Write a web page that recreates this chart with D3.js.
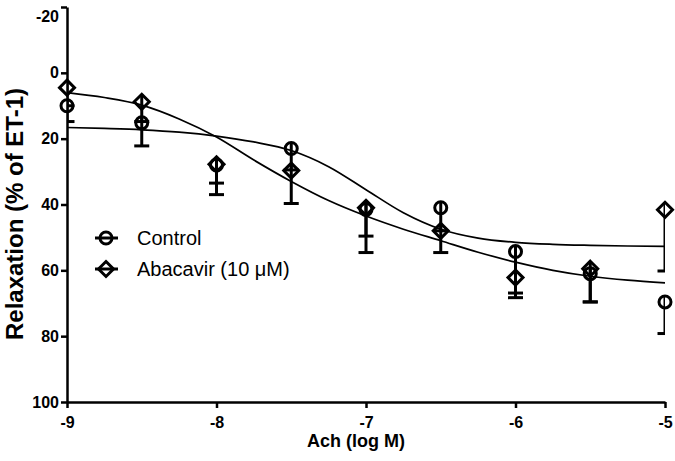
<!DOCTYPE html>
<html>
<head>
<meta charset="utf-8">
<script src="https://cdn.jsdelivr.net/npm/d3@7"></script>
<style>
  html, body { margin: 0; padding: 0; background: #fff; }
  svg { display: block; }
  text { font-family: "Liberation Sans", Arial, sans-serif; fill: #000; }
</style>
</head>
<body>
<svg id="chart" width="675" height="461"></svg>
<script>
// ---------------- data ----------------
const doses = [-9, -8.5, -8, -7.5, -7, -6.5, -6, -5.5, -5];
const controlMean = [10, 15.2, 28, 23, 41.5, 41, 54.3, 61, 69.6];
const controlSem  = [4.8, 7, 5.5, 6.5, 8.1, 7, 12.6, 8.6, 9.6];
const abacavirMean = [4.5, 8.8, 27.8, 29.7, 41, 48, 62.2, 59.5, 41.6];
const abacavirSem  = [5.5, 6, 9.2, 10, 13.6, 6.6, 6.1, 10.1, 18.6];

// fitted curves
const curveX = [-9, -8.75, -8.5, -8.25, -8, -7.75, -7.5, -7.25, -7, -6.75, -6.5, -6.25, -6, -5.75, -5.5, -5.25, -5];
const controlCurve  = [16.6, 16.9, 17.3, 18.0, 19.2, 21.0, 23.6, 28.5, 35.5, 42.5, 47.5, 50.2, 51.5, 52.1, 52.4, 52.6, 52.7];
const abacavirCurve = [6.0, 7.5, 9.8, 14.0, 19.5, 26.5, 33.0, 38.8, 43.5, 47.5, 51.0, 54.5, 57.5, 60.0, 61.8, 63.0, 63.8];

const xTicks = [-9, -8, -7, -6, -5];
const yTicks = [-20, 0, 20, 40, 60, 80, 100];
const seriesNames = ["Control", "Abacavir (10 \u03BCM)"];
const xTitle = "Ach (log M)";
const yTitle = "Relaxation (% of ET-1)";

// ---------------- chart ----------------
const svg = d3.select("#chart");
const x = d3.scaleLinear().domain([-9, -5]).range([67, 665]);
const y = d3.scaleLinear().domain([-20, 100]).range([7, 402]);

svg.append("defs").append("clipPath").attr("id", "plotclip")
  .append("rect").attr("x", x(-9)).attr("y", 0).attr("width", x(-5) - x(-9)).attr("height", 461);

// axes
const xAxis = svg.append("g").attr("transform", `translate(0,${y(100)})`)
  .call(d3.axisBottom(x).tickValues(xTicks).tickSize(6).tickSizeOuter(0).tickFormat(d => d));
const yAxis = svg.append("g").attr("transform", `translate(${x(-9)},0)`)
  .call(d3.axisLeft(y).tickValues(yTicks).tickSize(6).tickSizeOuter(0).tickFormat(d => d));
[xAxis, yAxis].forEach(a => {
  a.select(".domain").attr("stroke", "#000").attr("stroke-width", 2.5);
  a.selectAll(".tick line").attr("stroke", "#000").attr("stroke-width", 2.5);
  a.selectAll(".tick text").style("font-family", "'Liberation Sans', Arial, sans-serif")
    .style("font-size", "16px").style("font-weight", "bold").attr("fill", "#000");
});
xAxis.selectAll(".tick text").attr("dy", "0.95em").attr("y", 11);
yAxis.selectAll(".tick text").attr("x", -8)
  .attr("dy", d => d === -20 ? "0.9em" : "0.32em");

// titles
svg.append("text").attr("x", 356).attr("y", 447)
  .attr("text-anchor", "middle").style("font-size", "18px").style("font-weight", "bold").text(xTitle);
svg.append("text").attr("transform", `translate(23,214) rotate(-90)`)
  .attr("text-anchor", "middle").style("font-size", "24px").style("font-weight", "bold").text(yTitle);

// curves
const line = d3.line().x(d => x(d[0])).y(d => y(d[1])).curve(d3.curveMonotoneX);
[controlCurve, abacavirCurve].forEach(c => {
  svg.append("path").datum(curveX.map((v, i) => [v, c[i]]))
    .attr("d", line).attr("fill", "none").attr("stroke", "#000").attr("stroke-width", 1.7);
});

const R = 6, D = 7.5, CAP = 7.5, SW = 3;
const diamondPath = (cx, cy) => `M${cx},${cy - D}L${cx + D},${cy}L${cx},${cy + D}L${cx - D},${cy}Z`;

function drawSeries(mean, sem, kind) {
  const g = svg.append("g");
  const eb = g.append("g").attr("clip-path", "url(#plotclip)");
  doses.forEach((d, i) => {
    const cx = x(d), cy = y(mean[i]), ey = y(mean[i] + sem[i]);
    const top = kind === "circle" ? cy - R : cy - D;
    eb.append("line").attr("x1", cx).attr("x2", cx).attr("y1", top).attr("y2", ey)
      .attr("stroke", "#000").attr("stroke-width", SW);
    eb.append("line").attr("x1", cx - CAP).attr("x2", cx + CAP).attr("y1", ey).attr("y2", ey)
      .attr("stroke", "#000").attr("stroke-width", SW);
  });
  doses.forEach((d, i) => {
    const cx = x(d), cy = y(mean[i]);
    if (kind === "circle") {
      g.append("circle").attr("cx", cx).attr("cy", cy).attr("r", R)
        .attr("fill", "none").attr("stroke", "#000").attr("stroke-width", SW);
    } else {
      g.append("path").attr("d", diamondPath(cx, cy))
        .attr("fill", "none").attr("stroke", "#000").attr("stroke-width", SW);
    }
  });
}
drawSeries(controlMean, controlSem, "circle");
drawSeries(abacavirMean, abacavirSem, "diamond");

// legend
const legend = svg.append("g");
const legY = [238, 269];
["circle", "diamond"].forEach((kind, i) => {
  const ly = legY[i];
  legend.append("line").attr("x1", 95).attr("x2", 118).attr("y1", ly).attr("y2", ly)
    .attr("stroke", "#000").attr("stroke-width", SW);
  if (kind === "circle") {
    legend.append("circle").attr("cx", 106).attr("cy", ly).attr("r", R)
      .attr("fill", "none").attr("stroke", "#000").attr("stroke-width", SW);
  } else {
    legend.append("path").attr("d", diamondPath(106, ly))
      .attr("fill", "none").attr("stroke", "#000").attr("stroke-width", SW);
  }
  legend.append("text").attr("x", 137).attr("y", ly + 7)
    .style("font-size", "20px").text(seriesNames[i]);
});
</script>
</body>
</html>
